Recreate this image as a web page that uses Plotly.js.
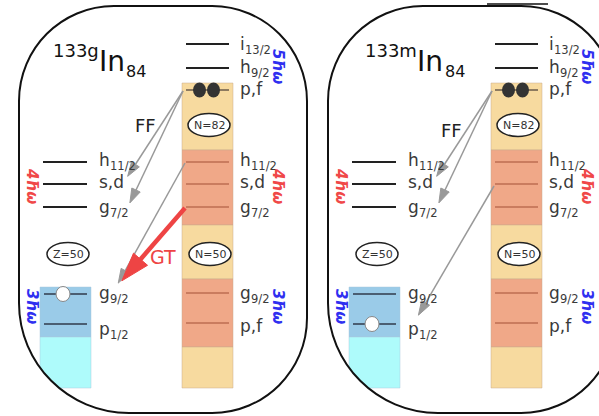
<!DOCTYPE html>
<html><head><meta charset="utf-8">
<script src="https://cdn.plot.ly/plotly-3.0.1.min.js"></script>
<style>html,body{margin:0;padding:0;background:#fff}#c{width:599px;height:416px}</style>
</head><body><div id="c"></div>
<script>
// ---------- data ----------
const panelNames = ['133g', '133m'];
const panelOffsets = [0, 309];
// neutron orbitals (right column of each panel): letter + subscript
const neutronMain = ['i','h','p,f','h','s,d','g','g','p,f'];
const neutronSub  = ['13/2','9/2','','11/2','','7/2','9/2',''];
const neutronLevels = [44, 68, 90, 162, 184, 207, 293, 323];
const neutronLabelY = [44, 67, 89, 160, 182, 207, 293, 326];
const neutronInBand = [false, false, true, true, true, true, true, true];
// proton orbitals (left side of each panel)
const protonMain = ['h','s,d','g','g','p'];
const protonSub  = ['11/2','','7/2','9/2','1/2'];
const protonLevels = [162, 184, 207, 294, 324];
const protonLabelY = [160, 182, 207, 293, 329];
const protonInBand = [false, false, false, true, true];
// shell bands
const neutronBandStart = [83, 150, 225, 279, 347];
const neutronBandEnd   = [150, 225, 279, 347, 388];
const neutronBandKind  = ['y','o','y','o','y'];
const protonBandStart = [287, 337];
const protonBandEnd   = [337, 388];
const protonBandKind  = ['b','c'];
// oscillator shells
const oscLabels = ['5ħω','4ħω','3ħω'];
const oscY = [66, 186, 306];
// hole position (proton level index) per panel
const holeLevel = [3, 4];
// transitions: [fromX, fromY, toX, toY]
const ffArrows = [[183, 91, 124, 182], [183, 91, 127, 209]];
const extraGrey = [[185, 163, 115, 289], [185, 186, 106, 321]];
const gtArrow = [185, 208, 113, 291];
const ffText = [[145, 125], [142, 130]];

// ---------- geometry / style ----------
const bandColors = {y:'#F7DA9F', o:'#F0A888', b:'#9ACBE8', c:'#AEFBFB'};
const nx0 = 182, nx1 = 233, px0 = 40, px1 = 91;
const mainW = {'i':4.8,'h':10.8,'g':10.8,'p':10.8};
const shapes = [], ann = [], traces = [];

function rr(x0,y0,x1,y1,r,rbl){
  const k = 0.5523*r, kb = 0.5523*rbl;
  return `M${x0+r},${y0} L${x1-r},${y0} C${x1-r+k},${y0} ${x1},${y0+r-k} ${x1},${y0+r} `+
         `L${x1},${y1-r} C${x1},${y1-r+k} ${x1-r+k},${y1} ${x1-r},${y1} `+
         `L${x0+rbl},${y1} C${x0+rbl-kb},${y1} ${x0},${y1-rbl+kb} ${x0},${y1-rbl} `+
         `L${x0},${y0+r} C${x0},${y0+r-k} ${x0+r-k},${y0} ${x0+r},${y0} Z`;
}
function label(x, y, main, sub){
  ann.push({x:x,y:y,text:main,xanchor:'left',yanchor:'middle',showarrow:false,font:{size:17,color:'#3a3a3a'}});
  if(sub) ann.push({x:x+mainW[main]+0.5,y:y+6,text:sub,xanchor:'left',yanchor:'middle',showarrow:false,font:{size:11.5,color:'#3a3a3a'}});
}
function arrow(x0,y0,x1,y1,color,width,head){
  const dx=x1-x0, dy=y1-y0, L=Math.hypot(dx,dy);
  const back = head*0.45;
  const mx = x1-dx/L*back, my = y1-dy/L*back;
  traces.push({x:[x0,mx-dx/L*head*0.3,mx],y:[y0,my-dy/L*head*0.3,my],mode:'lines+markers',
    line:{color:color,width:width},opacity:1,
    marker:{symbol:['circle','circle','arrow'],size:[0,0,head],color:color,opacity:1,angleref:'previous',
      line:{width:1,color:color}},
    hoverinfo:'skip'});
}

panelNames.forEach((nm, p) => {
  const d = panelOffsets[p];
  neutronBandStart.forEach((s,i)=>shapes.push({type:'rect',xref:'x',yref:'y',x0:nx0+d,x1:nx1+d,y0:s,y1:neutronBandEnd[i],
    fillcolor:bandColors[neutronBandKind[i]],line:{width:0.8,color:'rgba(200,170,140,0.6)'},layer:'below'}));
  protonBandStart.forEach((s,i)=>shapes.push({type:'rect',xref:'x',yref:'y',x0:px0+d,x1:px1+d,y0:s,y1:protonBandEnd[i],
    fillcolor:bandColors[protonBandKind[i]],line:{width:0.8,color:'rgba(170,200,220,0.6)'},layer:'below'}));
  const X0 = 19+d, Y1 = 413, R = 110, K = 0.5523*R;
  shapes.push({type:'path',xref:'x',yref:'y',path:`M${X0},${Y1-R} C${X0},${Y1-R+K} ${X0+R-K},${Y1} ${X0+R},${Y1} L${X0-5},${Y1+5} Z`,
    fillcolor:'#fff',line:{width:0},layer:'below'});
  shapes.push({type:'path',xref:'x',yref:'y',path:rr(19+d,6,307+d,413,95,110),line:{color:'#111',width:2},fillcolor:'rgba(0,0,0,0)'});

  const lx=[], ly=[], bx=[], by=[], cx=[], cy=[];
  neutronLevels.forEach((y,i)=>{
    if(!neutronInBand[i]){ lx.push(nx0+4+d, nx1-4+d, null); ly.push(y,y,null); }
    else if(i===2){ cx.push(nx0+4+d, nx1-4+d, null); cy.push(y,y,null); }
    else { bx.push(nx0+4+d, nx1-4+d, null); by.push(y,y,null); }
    label(nx1+5+d, neutronLabelY[i], neutronMain[i], neutronSub[i]);
  });
  const qx=[], qy=[];
  protonLevels.forEach((y,i)=>{
    if(!protonInBand[i]){ lx.push(px0+3+d, px1-4+d, null); ly.push(y,y,null); }
    else { qx.push(px0+4+d, px1-4+d, null); qy.push(y,y,null); }
    label(px1+6+d, protonLabelY[i], protonMain[i], protonSub[i]);
  });
  traces.push({x:lx,y:ly,mode:'lines',line:{color:'#222',width:2},hoverinfo:'skip'});
  traces.push({x:bx,y:by,mode:'lines',line:{color:'#BE6E52',width:1.5},hoverinfo:'skip'});
  traces.push({x:cx,y:cy,mode:'lines',line:{color:'#6a5a4a',width:1.5},hoverinfo:'skip'});
  traces.push({x:qx,y:qy,mode:'lines',line:{color:'#4a5e72',width:1.8},hoverinfo:'skip'});

  [199.5, 213.5].forEach(x=>shapes.push({type:'circle',xref:'x',yref:'y',x0:x-6.5+d,x1:x+6.5+d,
    y0:neutronLevels[2]-7.5,y1:neutronLevels[2]+7.5,fillcolor:'#333',line:{width:0}}));
  const hy = protonLevels[holeLevel[p]];
  shapes.push({type:'circle',xref:'x',yref:'y',x0:56+d,x1:70+d,y0:hy-7.5,y1:hy+7.5,fillcolor:'#fff',line:{color:'#888',width:1}});

  [[209,125,'N=82'],[210,254,'N=50'],[68,254,'Z=50']].forEach(([x,y,t])=>{
    shapes.push({type:'circle',xref:'x',yref:'y',x0:x-21+d,x1:x+21+d,y0:y-11.5,y1:y+11.5,fillcolor:'#fff',line:{color:'#222',width:1.5}});
    ann.push({x:x+d,y:y,text:t,showarrow:false,font:{size:11,color:'#333'},xanchor:'center',yanchor:'middle'});
  });

  ann.push({x:51+(p?312:0),y:50,text:nm,xanchor:'left',yanchor:'middle',showarrow:false,font:{size:18,color:'#111'}});
  ann.push({x:(p?415:97),y:61,text:'In',xanchor:'left',yanchor:'middle',showarrow:false,font:{size:28,color:'#111'}});
  ann.push({x:(p?443:124),y:71,text:'84',xanchor:'left',yanchor:'middle',showarrow:false,font:{size:16,color:'#111'}});

  oscLabels.forEach((t,i)=>{
    const col = i===1 ? '#F04848' : '#2F2FF0';
    ann.push({x:278+d,y:oscY[i],text:t,textangle:90,showarrow:false,xanchor:'center',yanchor:'middle',
      font:{size:15,color:col,weight:'bold',style:'italic'}});
    if(i>0) ann.push({x:32+d,y:oscY[i],text:t,textangle:90,showarrow:false,xanchor:'center',yanchor:'middle',
      font:{size:15,color:col,weight:'bold',style:'italic'}});
  });

  ffArrows.concat([extraGrey[p]]).forEach(a=>arrow(a[0]+d,a[1],a[2]+d,a[3],'#999999',1.5,15));
  ann.push({x:ffText[p][0]+d,y:ffText[p][1],text:'FF',showarrow:false,font:{size:18,color:'#222'}});
  if(p===0){
    arrow(gtArrow[0],gtArrow[1],gtArrow[2],gtArrow[3],'#EE4444',4.5,30);
    ann.push({x:163,y:257,text:'GT',showarrow:false,font:{size:19,color:'#EE4444'}});
  }
});
shapes.push({type:'line',xref:'x',yref:'y',x0:487,x1:548,y0:4,y1:4,line:{color:'#111',width:1.5}});

Plotly.newPlot('c', traces, {
  width:599,height:416,margin:{l:0,r:0,t:0,b:0},showlegend:false,
  paper_bgcolor:'#fff',plot_bgcolor:'#fff',
  font:{family:'DejaVu Sans, Verdana, sans-serif'},
  xaxis:{range:[0,599],visible:false,fixedrange:true},
  yaxis:{range:[416,0],visible:false,fixedrange:true},
  shapes:shapes,annotations:ann
},{staticPlot:true});
</script></body></html>
